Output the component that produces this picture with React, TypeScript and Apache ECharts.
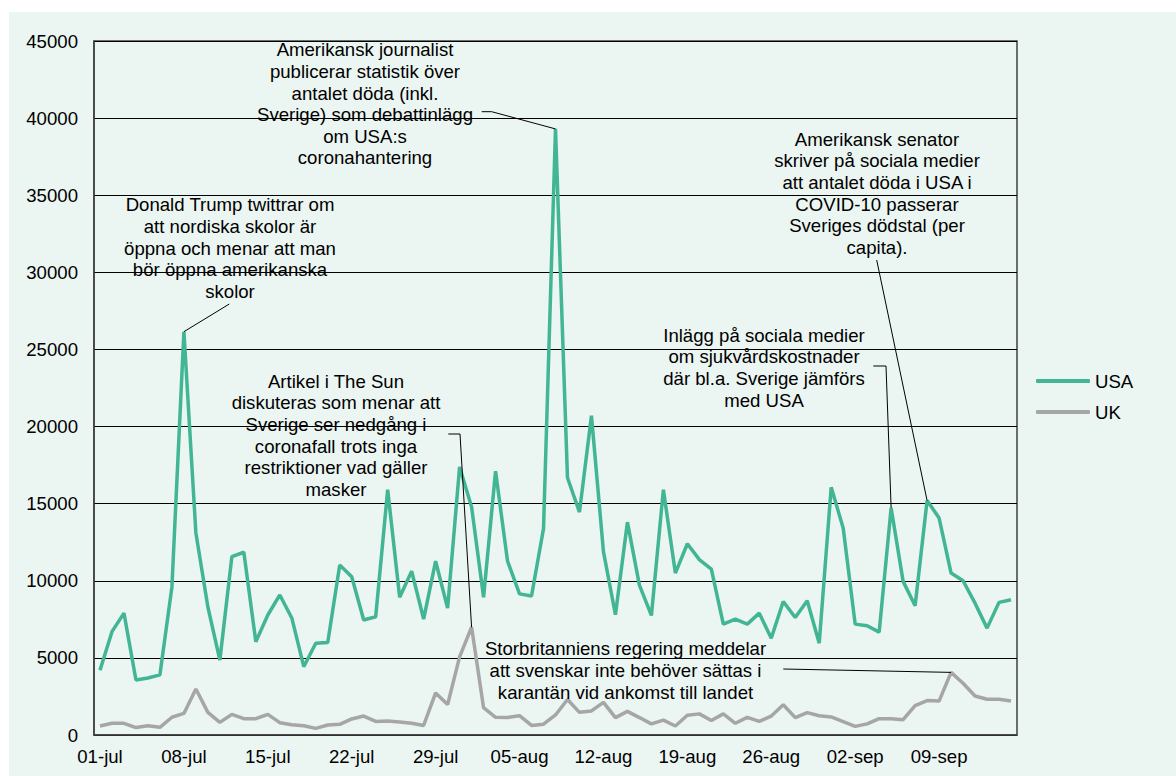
import React, { useEffect, useRef } from "react";
import * as echarts from "echarts";

const monthDays: [string, number][] = [["jul", 31], ["aug", 31], ["sep", 15]];
const categories: string[] = [];
monthDays.forEach(([m, n]) => {
  for (let d = 1; d <= n; d++) categories.push((d < 10 ? "0" + d : "" + d) + "-" + m);
});

const usa = [
  4200, 6700, 7900, 3570, 3700, 3900, 9600, 26150, 13100, 8300,
  4860, 11560, 11850, 6050, 7780, 9080, 7590, 4430, 5950, 6000,
  11020, 10260, 7460, 7670, 15900, 8930, 10620, 7520, 11270, 8230,
  17380, 14790, 8930, 17100, 11270, 9150, 9010, 13380, 39300, 16680,
  14450, 20700, 11890, 7800, 13800, 9720, 7750, 15910, 10500, 12400,
  11370, 10760, 7190, 7510, 7190, 7900, 6280, 8660, 7620, 8700,
  5950, 16060, 13420, 7190, 7080, 6670, 14720, 9960, 8380, 15200,
  14070, 10500, 10000, 8550, 6930, 8600, 8770,
];

const uk = [
  580, 760, 760, 480, 600, 500, 1150, 1400, 2980, 1470,
  820, 1340, 1060, 1060, 1340, 800, 670, 600, 430, 650,
  690, 1040, 1230, 880, 900, 850, 760, 620, 2730, 1970,
  5070, 6990, 1770, 1150, 1140, 1250, 620, 700, 1300, 2300,
  1470, 1560, 2120, 1130, 1530, 1130, 720, 960, 585, 1280,
  1370, 940, 1370, 760, 1140, 880, 1230, 1960, 1130, 1450,
  1250, 1170, 860, 560, 720, 1060, 1060, 990, 1910, 2230,
  2200, 4060, 3360, 2530, 2320, 2320, 2210,
];

const seriesNames = ["USA", "UK"];
const yTicks = { min: 0, max: 45000, step: 5000 };

const notes = [
  {
    text: "Donald Trump twittrar om\natt nordiska skolor är\nöppna och menar att man\nbör öppna amerikanska\nskolor",
    series: 0, index: 7,
  },
  {
    text: "Amerikansk journalist\npublicerar statistik över\nantalet döda (inkl.\nSverige) som debattinlägg\nom USA:s\ncoronahantering",
    series: 0, index: 38,
  },
  {
    text: "Amerikansk senator\nskriver på sociala medier\natt antalet döda i USA i\nCOVID-10 passerar\nSveriges dödstal (per\ncapita).",
    series: 0, index: 69,
  },
  {
    text: "Inlägg på sociala medier\nom sjukvårdskostnader\ndär bl.a. Sverige jämförs\nmed USA",
    series: 0, index: 66,
  },
  {
    text: "Artikel i The Sun\ndiskuteras som menar att\nSverige ser nedgång i\ncoronafall trots inga\nrestriktioner vad gäller\nmasker",
    series: 1, index: 31,
  },
  {
    text: "Storbritanniens regering meddelar\natt svenskar inte behöver sättas i\nkarantän vid ankomst till landet",
    series: 1, index: 71,
  },
];

// layout of note boxes (chart pixel coords): text anchor and leader start points
const noteLayout = [
  { x: 221, y: 182.2, leader: [[220.3, 292]] },
  { x: 356, y: 27, leader: [[472.7, 99.7], [482.7, 99.7]] },
  { x: 868, y: 116.5, leader: [[867.7, 248]] },
  { x: 755, y: 312.5, leader: [[864.3, 354], [877, 354]] },
  { x: 327, y: 358.5, leader: [[439.3, 422], [451, 422]] },
  { x: 616.5, y: 626, leader: [[774.3, 657]] },
];

const FONT = "Arial, 'Liberation Sans', sans-serif";
const FS = 18.6;

export default function App() {
  const ref = useRef<HTMLDivElement>(null);
  useEffect(() => {
    if (!ref.current) return;
    const chart = echarts.init(ref.current, null, { renderer: "svg" });
    const data = [usa, uk];
    chart.setOption({
      animation: false,
      backgroundColor: "#ebf5f1",
      textStyle: { fontFamily: FONT },
      grid: {
        left: 85, top: 29, width: 923, height: 694,
        show: true, borderColor: "#404040", borderWidth: 1.5,
        backgroundColor: "transparent",
      },
      legend: {
        orient: "vertical",
        left: 1022,
        top: 354,
        itemWidth: 54,
        itemHeight: 4,
        itemGap: 11,
        icon: "roundRect",
        data: seriesNames,
        textStyle: { fontSize: FS, color: "#000", fontFamily: FONT, lineHeight: 20 },
      },
      xAxis: {
        type: "category",
        data: categories,
        boundaryGap: true,
        axisLine: { show: true, lineStyle: { color: "#404040", width: 1.5 } },
        axisTick: { show: false },
        axisLabel: { interval: 6, fontSize: FS, color: "#000", fontFamily: FONT, margin: 12 },
        splitLine: { show: false },
      },
      yAxis: {
        type: "value",
        min: yTicks.min,
        max: yTicks.max,
        interval: yTicks.step,
        axisLine: { show: true, lineStyle: { color: "#404040", width: 1.5 } },
        axisTick: { show: false },
        axisLabel: {
          fontSize: FS, color: "#000", fontFamily: FONT, margin: 16,
          formatter: (v: number) => String(v),
        },
        splitLine: { show: true, lineStyle: { color: "#000", width: 1 } },
      },
      series: [
        {
          name: seriesNames[0], type: "line", data: usa, symbol: "none",
          color: "#42b595", lineStyle: { color: "#42b595", width: 3.5 }, z: 3,
        },
        {
          name: seriesNames[1], type: "line", data: uk, symbol: "none",
          color: "#a6a6a6", lineStyle: { color: "#a6a6a6", width: 3.5 }, z: 2,
        },
      ],
    });

    const graphics: any[] = [];
    notes.forEach((n, i) => {
      const lay = noteLayout[i];
      const end = chart.convertToPixel({ seriesIndex: n.series }, [n.index, data[n.series][n.index]]) as number[];
      graphics.push({
        type: "text",
        x: lay.x,
        y: lay.y,
        z: 10,
        style: {
          text: n.text,
          fill: "#000",
          fontSize: FS,
          fontFamily: FONT,
          lineHeight: 21.6,
          align: "center",
          verticalAlign: "top",
        },
      });
      graphics.push({
        type: "polyline",
        z: 10,
        shape: { points: [...lay.leader, end] },
        style: { stroke: "#000", lineWidth: 1, fill: null },
      });
    });
    chart.setOption({ graphic: graphics });

    return () => chart.dispose();
  }, []);

  return (
    <div
      ref={ref}
      style={{ position: "fixed", left: 9, top: 12, width: 1167, height: 764 }}
    />
  );
}
